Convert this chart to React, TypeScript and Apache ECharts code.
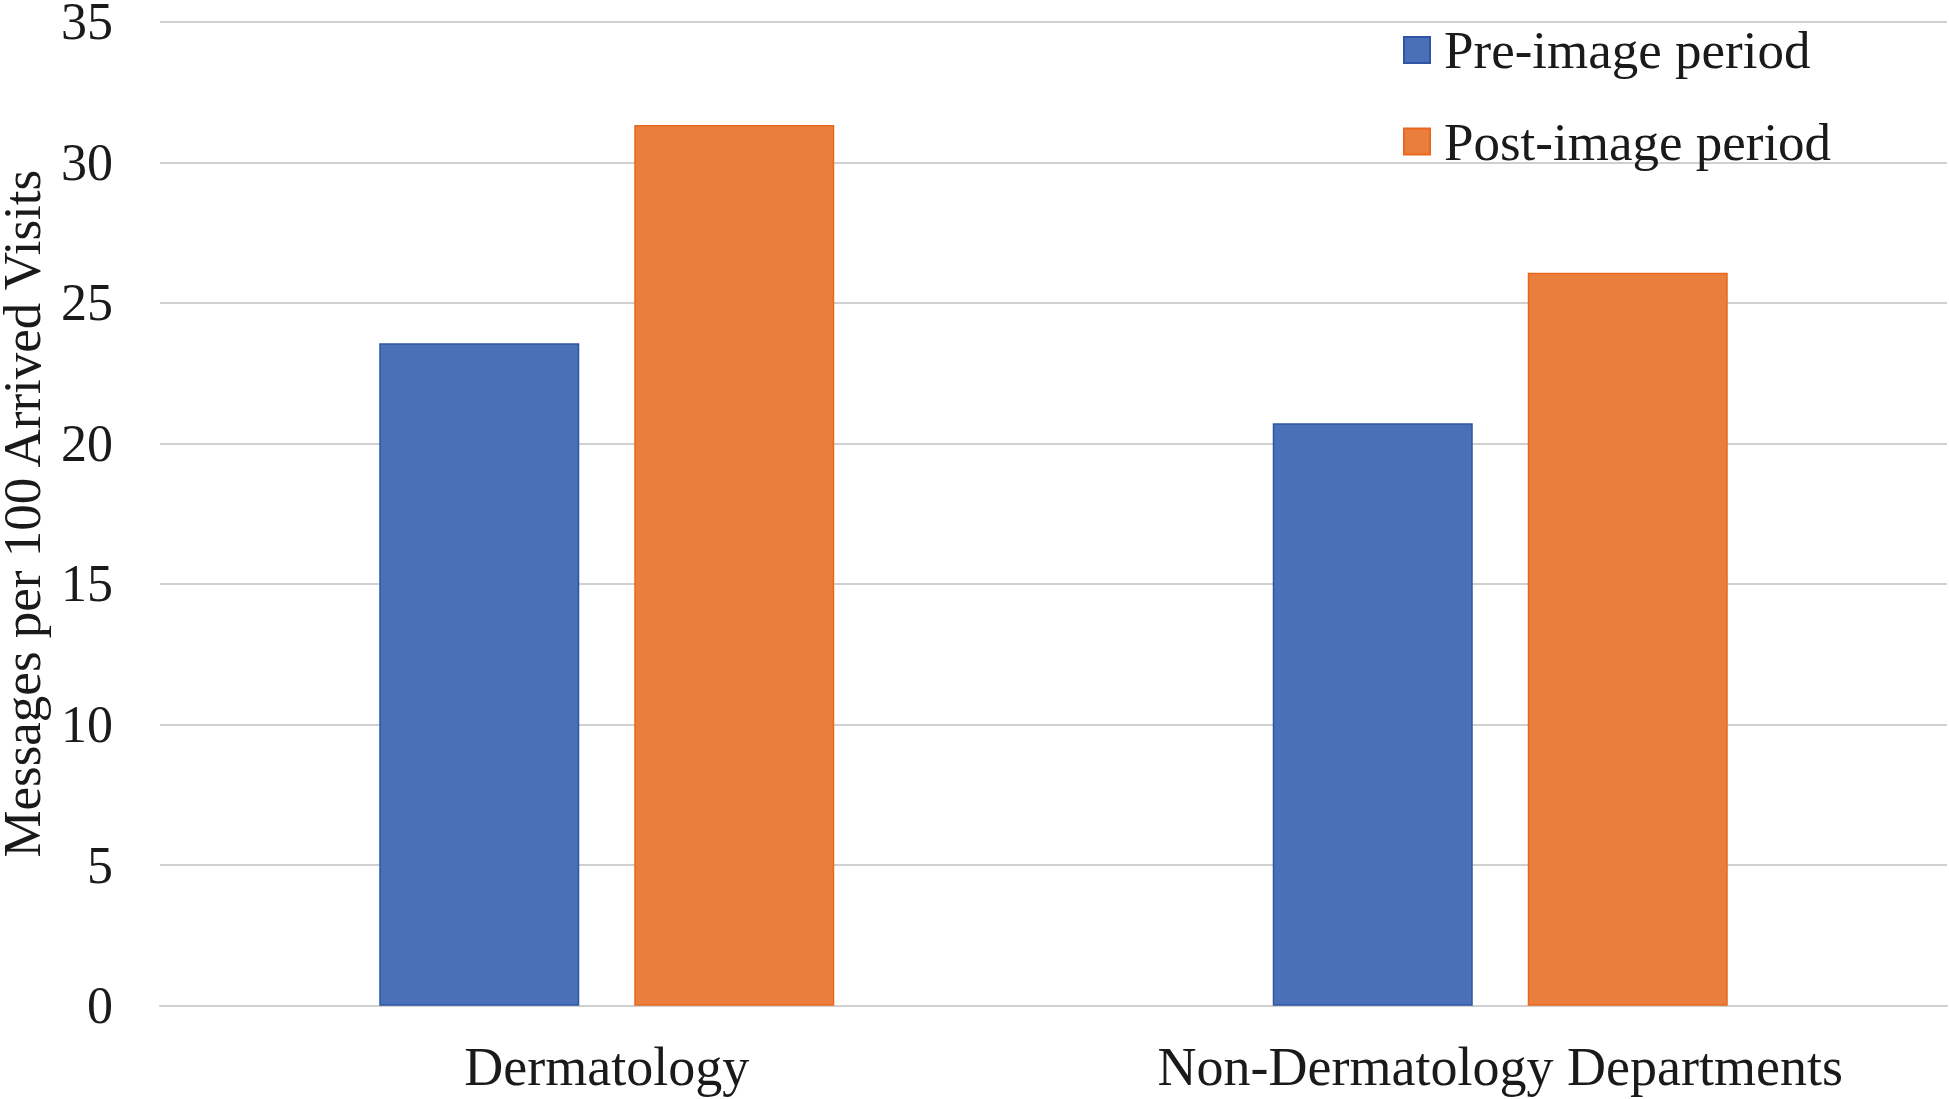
import React, { useEffect, useRef } from "react";
import * as echarts from "echarts";

const categories = ["Dermatology", "Non-Dermatology Departments"];
const preImage = [23.56, 20.72];
const postImage = [31.33, 26.07];
const seriesNames = ["Pre-image period", "Post-image period"];
const yTicks = { min: 0, max: 35, interval: 5 };

const FONT = '"Liberation Serif", "Times New Roman", serif';

export default function App() {
  const ref = useRef<HTMLDivElement>(null);
  useEffect(() => {
    if (!ref.current) return;
    const chart = echarts.init(ref.current, undefined, { renderer: "svg" });
    chart.setOption({
      animation: false,
      backgroundColor: "#ffffff",
      grid: {
        left: 160,
        right: 2,
        top: 21.7,
        bottom: 93.3,
        containLabel: false,
        outerBoundsMode: "none",
      },
      legend: {
        orient: "vertical",
        left: 1398,
        top: 18,
        icon: "rect",
        itemWidth: 26,
        itemHeight: 26,
        itemGap: 37.5,
        textStyle: {
          fontFamily: FONT,
          fontSize: 53,
          lineHeight: 54,
          color: "#1a1a1a",
          padding: [0, 0, 0, 9],
        },
        data: seriesNames,
      },
      xAxis: {
        type: "category",
        data: categories,
        axisLine: { show: true, lineStyle: { color: "#d0d0d0", width: 2 } },
        axisTick: { show: false },
        axisLabel: {
          fontFamily: FONT,
          fontSize: 54,
          color: "#1a1a1a",
          margin: 34,
        },
      },
      yAxis: {
        type: "value",
        min: yTicks.min,
        max: yTicks.max,
        interval: yTicks.interval,
        name: "Messages per 100 Arrived Visits",
        nameLocation: "middle",
        nameGap: 112,
        nameTextStyle: { fontFamily: FONT, fontSize: 53, color: "#1a1a1a" },
        axisLine: { show: false },
        axisTick: { show: false },
        axisLabel: {
          fontFamily: FONT,
          fontSize: 52,
          color: "#1a1a1a",
          margin: 47,
        },
        splitLine: { lineStyle: { color: "#d0d0d0", width: 2 } },
      },
      series: [
        {
          name: seriesNames[0],
          type: "bar",
          data: preImage,
          barWidth: 200,
          barGap: "27.5%",
          itemStyle: { color: "#4A70B8", borderColor: "#2F55A4", borderWidth: 1.5 },
        },
        {
          name: seriesNames[1],
          type: "bar",
          data: postImage,
          barWidth: 200,
          barGap: "27.5%",
          itemStyle: { color: "#EA7E3C", borderColor: "#E8691E", borderWidth: 1.5 },
        },
      ],
    });
    return () => chart.dispose();
  }, []);
  return (
    <div
      ref={ref}
      style={{ position: "fixed", left: 0, top: 0, width: 1949, height: 1099 }}
    />
  );
}
